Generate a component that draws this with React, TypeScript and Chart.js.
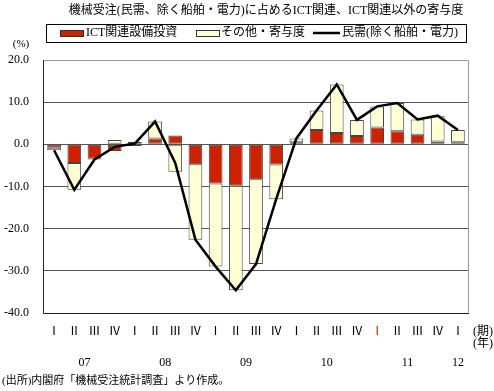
import React, { useEffect, useRef } from "react";
import { Chart, registerables } from "chart.js";

Chart.register(...registerables);

const quarterLabels = ["Ⅰ","Ⅱ","Ⅲ","Ⅳ","Ⅰ","Ⅱ","Ⅲ","Ⅳ","Ⅰ","Ⅱ","Ⅲ","Ⅳ","Ⅰ","Ⅱ","Ⅲ","Ⅳ","Ⅰ","Ⅱ","Ⅲ","Ⅳ","Ⅰ"];
const quarterColors = ["#000","#000","#000","#000","#000","#000","#000","#000","#000","#000","#000","#000","#000","#000","#000","#000","#cc2200","#000","#000","#000","#000"];
const yearLabels = ["07", "08", "09", "10", "11", "12"];
const yearFirstIndex = [0, 4, 8, 12, 16, 20];
const yearLastIndex = [3, 7, 11, 15, 19, 20];

const ictValues = [-0.8, -4.4, -3.4, -1.6, -0.4, 1.4, 2.1, -4.7, -9.3, -9.8, -8.3, -4.8, 0.5, 3.4, 2.7, 2.0, 4.0, 3.1, 2.3, 0.7, 0.5];
const otherValues = [-0.6, -6.4, -0.2, 1.0, 0.6, 4.0, -6.5, -17.9, -19.7, -24.8, -20.1, -8.2, 0.9, 4.6, 11.5, 3.8, 5.0, 6.7, 3.6, 6.1, 2.9];
const totalValues = [-1.4, -10.8, -3.6, -0.6, 0.2, 5.4, -4.4, -22.6, -29.0, -34.6, -28.4, -13.0, 1.4, 8.0, 14.2, 5.8, 9.0, 9.8, 5.9, 6.8, 3.4];

const titleText = "機械受注(民需、除く船舶・電力)に占めるICT関連、ICT関連以外の寄与度";
const legendLabels = ["ICT関連設備投資", "その他・寄与度", "民需(除く船舶・電力)"];
const sourceText = "(出所)内閣府「機械受注統計調査」より作成。";

const FONT = '"Liberation Serif", "Noto Sans CJK JP", serif';
const RED = "#cc2200";
const CREAM = "#ffffd6";

const overlay = {
  id: "overlay",
  afterDraw(chart: any) {
    const ctx = chart.ctx as CanvasRenderingContext2D;
    const a = chart.chartArea;
    const x = chart.scales.x;
    ctx.save();
    // frame
    ctx.lineWidth = 1;
    ctx.strokeStyle = "#999";
    ctx.beginPath();
    ctx.moveTo(a.left, a.top + 0.5);
    ctx.lineTo(a.right + 0.5, a.top + 0.5);
    ctx.lineTo(a.right + 0.5, a.bottom);
    ctx.stroke();
    ctx.strokeStyle = "#222";
    ctx.beginPath();
    ctx.moveTo(a.left - 0.5, a.top);
    ctx.lineTo(a.left - 0.5, a.bottom + 0.5);
    ctx.lineTo(a.right + 1, a.bottom + 0.5);
    ctx.stroke();

    // title
    ctx.fillStyle = "#000";
    ctx.font = `12px ${FONT}`;
    ctx.textAlign = "center";
    ctx.textBaseline = "middle";
    ctx.fillText(titleText, 266, 11);

    // legend box
    ctx.strokeStyle = "#000";
    ctx.strokeRect(46.5, 24.5, 420, 18);
    const ly = 33;
    ctx.fillStyle = RED;
    ctx.fillRect(60, 30, 23, 6);
    ctx.strokeStyle = "#333";
    ctx.strokeRect(60.5, 30.5, 23, 6);
    ctx.fillStyle = CREAM;
    ctx.fillRect(196, 30, 23, 6);
    ctx.strokeRect(196.5, 30.5, 23, 6);
    ctx.strokeStyle = "#000";
    ctx.lineWidth = 2.5;
    ctx.beginPath();
    ctx.moveTo(313, ly);
    ctx.lineTo(340, ly);
    ctx.stroke();
    ctx.fillStyle = "#000";
    ctx.textAlign = "left";
    ctx.font = `12px ${FONT}`;
    ctx.fillText(legendLabels[0], 86, ly);
    ctx.fillText(legendLabels[1], 221, ly);
    ctx.fillText(legendLabels[2], 342, ly);

    // (%)
    ctx.font = `11px ${FONT}`;
    ctx.textAlign = "center";
    ctx.fillText("(%)", 21, 44);

    // quarter labels
    ctx.font = `12px ${FONT}`;
    ctx.textAlign = "center";
    quarterLabels.forEach((q, i) => {
      ctx.fillStyle = quarterColors[i];
      ctx.fillText(q, x.getPixelForValue(i), 332);
    });
    ctx.fillStyle = "#000";
    ctx.fillText("(期)", 483, 332);
    ctx.fillText("(年)", 483, 344);
    // year labels
    yearLabels.forEach((y, i) => {
      const px = (x.getPixelForValue(yearFirstIndex[i]) + x.getPixelForValue(yearLastIndex[i])) / 2;
      ctx.fillText(y, px, 363);
    });
    // source
    ctx.font = `11px ${FONT}`;
    ctx.textAlign = "left";
    ctx.fillText(sourceText, 2, 381);
    ctx.restore();
  },
};

export default function App() {
  const ref = useRef<HTMLCanvasElement>(null);
  useEffect(() => {
    document.body.style.margin = "0";
    const chart = new Chart(ref.current as HTMLCanvasElement, {
      type: "bar",
      data: {
        labels: quarterLabels.map((q, i) => `${i}`),
        datasets: [
          {
            type: "line",
            label: legendLabels[2],
            data: totalValues,
            borderColor: "#000",
            borderWidth: 2.5,
            pointRadius: 0,
            fill: false,
            tension: 0,
            stack: "line",
            order: 0,
          } as any,
          {
            label: legendLabels[0],
            data: ictValues,
            backgroundColor: RED,
            borderColor: "#444",
            borderWidth: 1,
            borderSkipped: false,
            stack: "bar",
            barPercentage: 0.68,
            categoryPercentage: 1,
            order: 1,
          },
          {
            label: legendLabels[1],
            data: otherValues,
            backgroundColor: CREAM,
            borderColor: "#444",
            borderWidth: 1,
            borderSkipped: false,
            stack: "bar",
            barPercentage: 0.68,
            categoryPercentage: 1,
            order: 1,
          },
        ],
      },
      options: {
        animation: false,
        responsive: false,
        maintainAspectRatio: false,
        layout: { padding: { top: 60, right: 26, bottom: 78, left: 0 } },
        plugins: { legend: { display: false }, title: { display: false }, tooltip: { enabled: false } },
        scales: {
          x: { display: false, stacked: true },
          y: {
            stacked: true,
            min: -40,
            max: 20,
            afterFit: (s: any) => { s.width = 44; },
            border: { display: false },
            grid: {
              drawTicks: false,
              color: (c: any) => (c.tick && (c.tick.value === 20 || c.tick.value === -40) ? "rgba(0,0,0,0)" : "#555"),
              lineWidth: 1,
            },
            ticks: {
              stepSize: 10,
              padding: 15,
              color: "#000",
              font: { size: 12, family: FONT },
              callback: (v: any) => Number(v).toFixed(1),
            },
          },
        },
      },
      plugins: [overlay],
    });
    return () => chart.destroy();
  }, []);
  return (
    <div style={{ position: "absolute", left: 0, top: 0, width: 494, height: 391 }}>
      <canvas ref={ref} width={494} height={391} />
    </div>
  );
}
